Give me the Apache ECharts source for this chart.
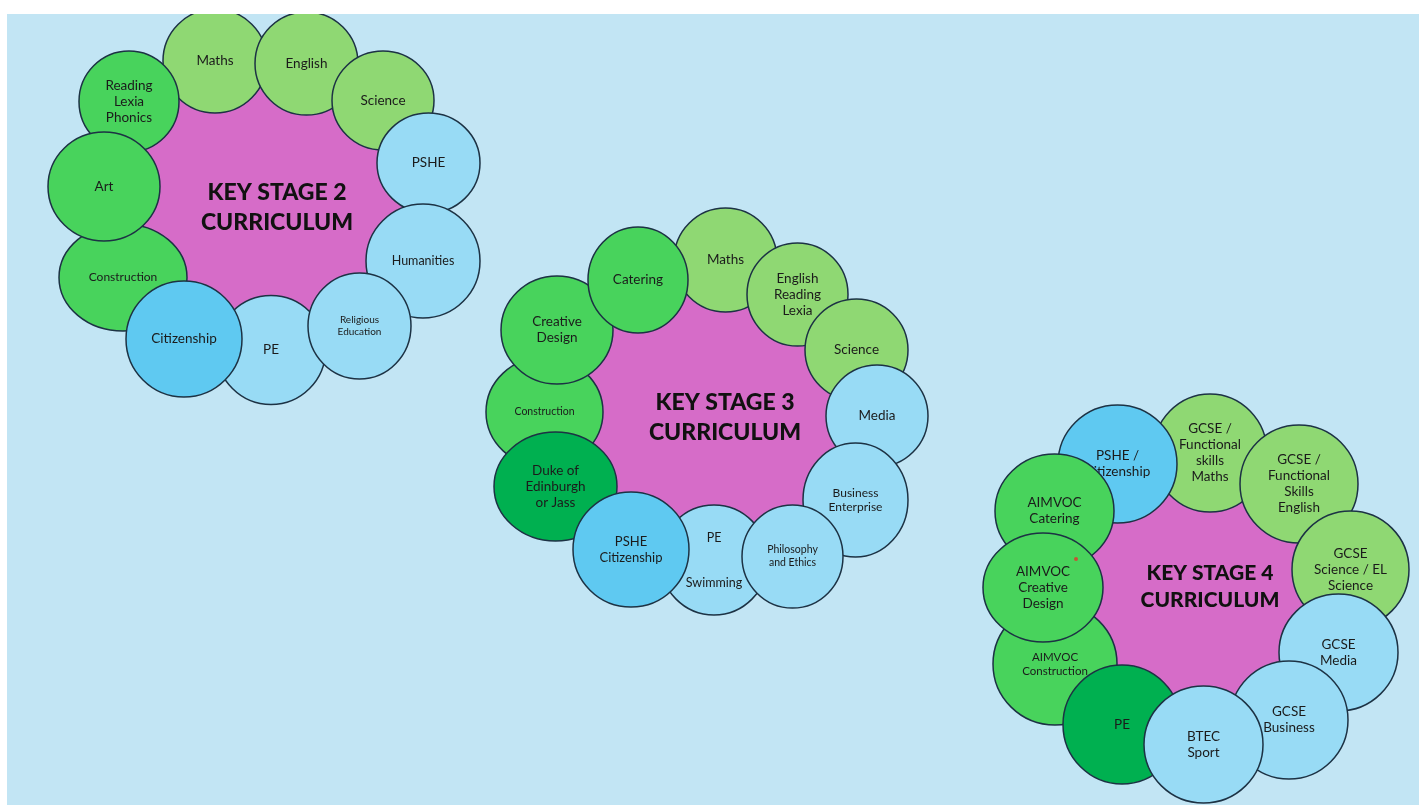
<!DOCTYPE html>
<html style="height: 100%">
<head>
    <meta charset="utf-8">
</head>
<body style="height: 100%; margin: 0; background: #ffffff">
<div id="container" style="width: 1419px; height: 805px"></div>
<script type="text/javascript" src="https://cdn.jsdelivr.net/npm/echarts@6/dist/echarts.min.js"></script>
<script type="text/javascript">
// subjects per key stage, listed back to front (paint order)
var ks2Labels = ['Maths', 'English', 'Science', 'PSHE', 'Humanities', 'PE', 'Religious\nEducation',
    'Construction', 'Citizenship', 'Reading\nLexia\nPhonics', 'Art'];
var ks2Groups = ['core', 'core', 'core', 'wider', 'wider', 'wider', 'wider',
    'practical', 'citizenship', 'practical', 'practical'];
var ks2X = [215, 306.5, 383, 428.5, 423, 271, 359.5, 123, 184, 129, 104];
var ks2Y = [61, 63.5, 100.5, 163, 261, 350, 326, 277.5, 339, 101.5, 186.5];
var ks2W = [104, 103, 102, 103, 114, 109, 103, 128, 116, 100, 112];
var ks2H = [104, 103, 99, 100, 114, 109, 106, 107, 116, 101, 109];

var ks3Labels = ['Maths', 'English\nReading\nLexia', 'Science', 'Media', 'Business\nEnterprise',
    'PE\n\n\nSwimming', 'Philosophy\nand Ethics', 'Construction', 'Duke of\nEdinburgh\nor Jass',
    'PSHE\nCitizenship', 'Creative\nDesign', 'Catering'];
var ks3Groups = ['core', 'core', 'core', 'wider', 'wider', 'wider', 'wider',
    'practical', 'enrichment', 'citizenship', 'practical', 'practical'];
var ks3X = [725.5, 797.5, 856.5, 877, 855.5, 714, 792.5, 544.5, 555.5, 631, 557, 638];
var ks3Y = [260, 294.5, 350, 416, 500, 560, 556.5, 412, 486.5, 549.5, 330, 280];
var ks3W = [103, 101, 103, 102, 105, 108, 101, 117, 123, 116, 112, 100];
var ks3H = [104, 103, 102, 102, 114, 110, 103, 110, 109, 115, 108, 106];

var ks4Labels = ['GCSE /\nFunctional\nskills\nMaths', 'GCSE /\nFunctional\nSkills\nEnglish',
    'GCSE\nScience / EL\nScience', 'GCSE\nMedia', 'GCSE\nBusiness', 'PSHE /\nCitizenship',
    'AIMVOC\nConstruction', 'PE', 'BTEC\nSport', 'AIMVOC\nCatering', 'AIMVOC\nCreative\nDesign'];
var ks4Groups = ['core', 'core', 'core', 'wider', 'wider', 'citizenship',
    'practical', 'enrichment', 'wider', 'practical', 'practical'];
var ks4X = [1210, 1299, 1350.5, 1338.5, 1289, 1117.5, 1055, 1122, 1203.5, 1054.5, 1043];
var ks4Y = [453, 484, 569.5, 652.5, 720, 464, 664, 724.5, 744.5, 511, 587.5];
var ks4W = [114, 118, 117, 119, 118, 119, 124, 118, 119, 119, 120];
var ks4H = [118, 118, 117, 117, 118, 118, 122, 119, 117, 114, 109];

// hub in the middle of each ring
var hubTitles = ['KEY STAGE 2\nCURRICULUM', 'KEY STAGE 3\nCURRICULUM', 'KEY STAGE 4\nCURRICULUM'];
var hubX = [277, 725, 1210];
var hubY = [208, 418, 587];

var redDot = [[1076, 559]];

// styles
var groupColor = {
    core: '#8fd873',
    practical: '#48d35c',
    enrichment: '#00b050',
    wider: '#98dbf5',
    citizenship: '#5fc9f1'
};
var labelSize = {
    'ks2|Religious\nEducation': 10,
    'ks2|Construction': 12,
    'ks2|Humanities': 12.5,
    'ks3|Construction': 10.5,
    'ks3|Philosophy\nand Ethics': 10.5,
    'ks3|Business\nEnterprise': 12,
    'ks3|PSHE\nCitizenship': 13,
    'ks3|PE\n\n\nSwimming': 12.5,
    'ks4|AIMVOC\nConstruction': 11.5
};
var titleSize = [23, 23, 21];
var titleLine = [30, 30, 27];

var stages = [
    {key: 'ks2', labels: ks2Labels, groups: ks2Groups, x: ks2X, y: ks2Y, w: ks2W, h: ks2H},
    {key: 'ks3', labels: ks3Labels, groups: ks3Groups, x: ks3X, y: ks3Y, w: ks3W, h: ks3H},
    {key: 'ks4', labels: ks4Labels, groups: ks4Groups, x: ks4X, y: ks4Y, w: ks4W, h: ks4H}
];

var items = [];
stages.forEach(function (s) {
    s.labels.forEach(function (lab, i) {
        items.push({stage: s.key, label: lab, group: s.groups[i], x: s.x[i], y: s.y[i], w: s.w[i], h: s.h[i]});
    });
});

var dom = document.getElementById('container');
var myChart = echarts.init(dom, null, {renderer: 'canvas'});

var option = {
    backgroundColor: '#ffffff',
    animation: false,
    grid: {
        show: true, left: 7, top: 14, right: 0, bottom: 0,
        backgroundColor: '#c2e5f4', borderWidth: 0
    },
    xAxis: {type: 'value', min: 7, max: 1419, show: false},
    yAxis: {type: 'value', min: 14, max: 805, inverse: true, show: false},
    series: [{
        // magenta hub: polygon through the ring's centres, hidden under the circles
        type: 'custom',
        z: 1,
        silent: true,
        encode: {x: 0, y: 1},
        data: hubX.map(function (x, i) { return [x, hubY[i]]; }),
        renderItem: function (params, api) {
            var i = params.dataIndex;
            var s = stages[i];
            var cx = hubX[i], cy = hubY[i];
            var pts = s.x.map(function (x, k) { return [x, s.y[k]]; });
            pts.sort(function (a, b) {
                return Math.atan2(a[1] - cy, a[0] - cx) - Math.atan2(b[1] - cy, b[0] - cx);
            });
            var c = api.coord([cx, cy]);
            return {
                type: 'group',
                children: [{
                    type: 'polygon',
                    shape: {points: pts.map(function (p) { return api.coord(p); })},
                    style: {fill: '#d66cc8'}
                }, {
                    type: 'text',
                    x: c[0], y: c[1],
                    style: {
                        text: hubTitles[i],
                        align: 'center', verticalAlign: 'middle',
                        fontFamily: 'Lato', fontWeight: 900,
                        fontSize: titleSize[i], lineHeight: titleLine[i],
                        fill: '#111111'
                    }
                }]
            };
        }
    }, {
        type: 'custom',
        z: 2,
        clip: true,
        silent: true,
        encode: {x: 0, y: 1},
        data: items.map(function (d) { return [d.x, d.y, d.w, d.h]; }),
        renderItem: function (params, api) {
            var d = items[params.dataIndex];
            var c = api.coord([api.value(0), api.value(1)]);
            var sz = api.size([api.value(2), api.value(3)]);
            var fs = labelSize[d.stage + '|' + d.label] || 13.5;
            return {
                type: 'group',
                children: [{
                    type: 'ellipse',
                    shape: {cx: c[0], cy: c[1], rx: sz[0] / 2, ry: sz[1] / 2},
                    style: {fill: groupColor[d.group], stroke: '#1c3244', lineWidth: 1.5}
                }, {
                    type: 'text',
                    x: c[0], y: c[1],
                    style: {
                        text: d.label,
                        align: 'center', verticalAlign: 'middle',
                        fontFamily: 'Lato', fontSize: fs,
                        lineHeight: Math.round(fs * 1.2),
                        fill: '#1b1b1b'
                    }
                }]
            };
        }
    }, {
        type: 'scatter',
        z: 3,
        silent: true,
        data: redDot,
        symbolSize: 4,
        itemStyle: {color: '#e3342b'}
    }]
};

if (option && typeof option === "object") {
    myChart.setOption(option, true);
}
</script>
</body>
</html>
